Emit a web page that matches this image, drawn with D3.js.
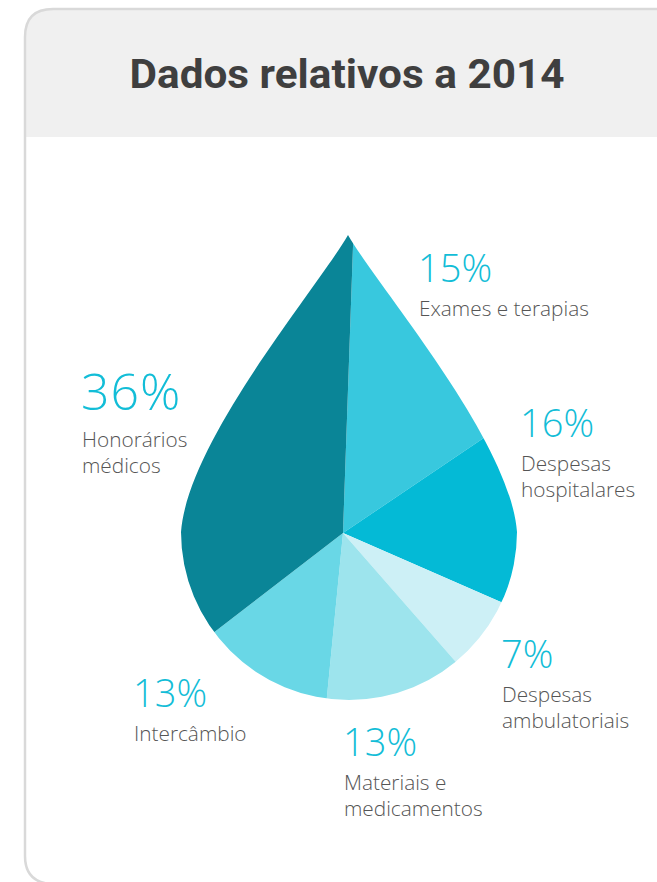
<!DOCTYPE html>
<html><head><meta charset="utf-8">
<script src="https://cdn.jsdelivr.net/npm/d3@7"></script>
<style>
html,body{margin:0;padding:0;background:#fff;}
svg{display:block;}
</style></head>
<body>
<svg id="c" width="657" height="882"></svg>
<script>
const title = "Dados relativos a 2014";
const categories = ["Exames e terapias","Despesas hospitalares","Despesas ambulatoriais","Materiais e medicamentos","Intercâmbio","Honorários médicos"];
const values = [15,16,7,13,13,36];
const pctLabels = ["15%","16%","7%","13%","13%","36%"];
const labelLines = [["Exames e terapias"],["Despesas","hospitalares"],["Despesas","ambulatoriais"],["Materiais e","medicamentos"],["Intercâmbio"],["Honorários","médicos"]];
const colors = ["#38c8de","#04bad6","#cdf0f6","#9de4ed","#69d7e6","#0a8597"];

const svg = d3.select("#c");
const W = 657, H = 882;

// card
const cardX = 25, cardY = 9, rad = 28;
svg.append("path")
  .attr("d", `M${cardX},137 L${cardX},${cardY+rad} Q${cardX},${cardY} ${cardX+rad},${cardY} L${W+10},${cardY} L${W+10},137 Z`)
  .attr("fill","#f0f0f0");
svg.append("path")
  .attr("d", `M${cardX},${cardY+rad} Q${cardX},${cardY} ${cardX+rad},${cardY} L${W+10},${cardY} M${cardX},${cardY+rad} L${cardX},${H-26} Q${cardX},${H} ${cardX+26},${H+2}`)
  .attr("fill","none").attr("stroke","#d9d9d9").attr("stroke-width",2.5);

svg.append("text").text(title)
  .attr("x",347).attr("y",88).attr("text-anchor","middle")
  .attr("font-family","Roboto, 'Open Sans', sans-serif").attr("font-weight",700)
  .attr("font-size",40).attr("fill","#3f3f3f")
  .attr("textLength",435).attr("lengthAdjust","spacingAndGlyphs");

// drop clip
const cx = 349, cy = 532, r = 168, tipX = 348, tipY = 235;
const drop = `M${tipX},${tipY} C${tipX+32},${tipY+55} ${cx+r-7},${cy-92} ${cx+r},${cy} A${r},${r} 0 0 1 ${cx-r},${cy} C${cx-r+7},${cy-92} ${tipX-32},${tipY+55} ${tipX},${tipY} Z`;
svg.append("defs").append("clipPath").attr("id","drop").append("path").attr("d",drop);

const pcx = 343, pcy = 533;
const off = 2*Math.PI/180;
const pie = d3.pie().sort(null).startAngle(off).endAngle(2*Math.PI+off);
const arc = d3.arc().innerRadius(0).outerRadius(420);
const g = svg.append("g").attr("clip-path","url(#drop)").append("g").attr("transform",`translate(${pcx},${pcy})`);
g.selectAll("path").data(pie(values)).join("path")
  .attr("d",arc).attr("fill",(d,i)=>colors[i]);

// labels
const labelPos = [
  {x:418,y:282,fs:38},
  {x:520,y:437,fs:38},
  {x:501,y:668,fs:38},
  {x:343,y:756,fs:38},
  {x:133,y:707,fs:38},
  {x:81,y:410,fs:50}
];
const lg = svg.append("g");
categories.forEach((c,i)=>{
  const p = labelPos[i];
  lg.append("text").text(pctLabels[i]).attr("x",p.x).attr("y",p.y)
    .attr("font-family","'Open Sans', sans-serif").attr("font-weight",300)
    .attr("font-size",p.fs).attr("fill","#12bdd7")
    .attr("letter-spacing", p.fs>40 ? 1 : 0);
  labelLines[i].forEach((l,j)=>{
    lg.append("text").text(l).attr("x",p.x+1).attr("y",p.y+34+(p.fs>40?3:0)+j*26)
      .attr("font-family","'Open Sans', sans-serif").attr("font-weight",300)
      .attr("font-size",20.8).attr("fill","#555");
  });
});
</script>
</body></html>
